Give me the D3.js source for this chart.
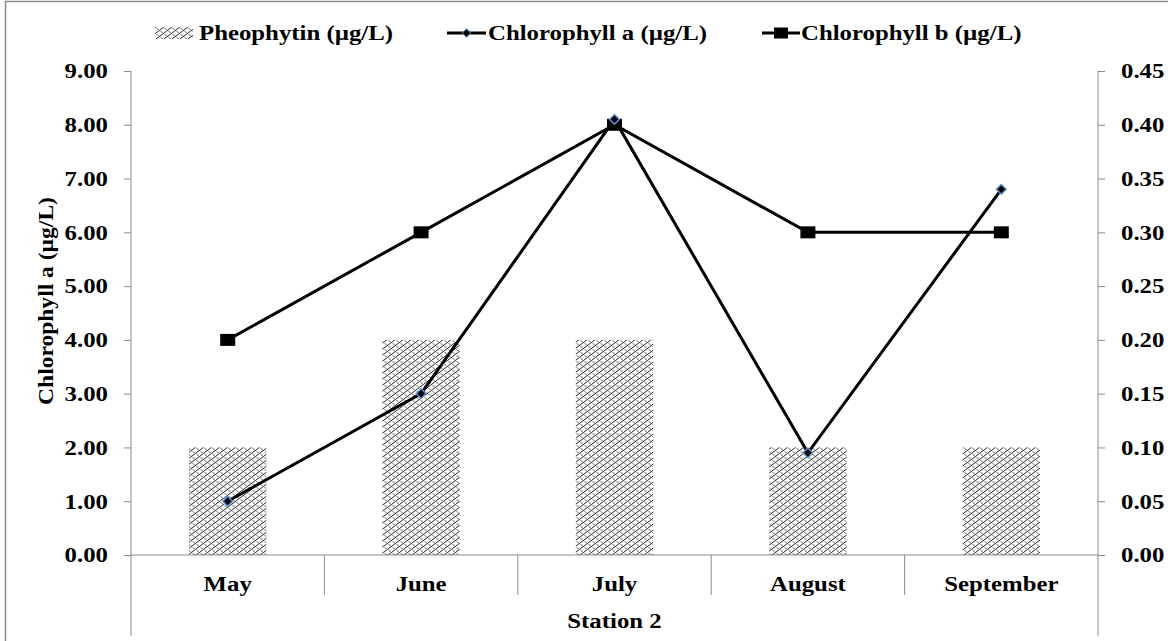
<!DOCTYPE html>
<html>
<head>
<meta charset="utf-8">
<script src="https://cdn.jsdelivr.net/npm/d3@7"></script>
<style>
  body { margin: 0; background: #fff; }
  text { font-family: "Liberation Serif", "Times New Roman", serif; font-weight: bold; fill: #000; }
</style>
</head>
<body>
<svg id="chart" width="1168" height="641"></svg>
<script>
// data
var months = ["May", "June", "July", "August", "September"];
var pheophytin = [0.10, 0.20, 0.20, 0.10, 0.10];   // right axis
var chlA = [1.00, 3.00, 8.10, 1.90, 6.80];           // left axis
var chlB = [0.20, 0.30, 0.40, 0.30, 0.30];           // right axis
var leftTicks = [0, 1, 2, 3, 4, 5, 6, 7, 8, 9];
var rightTicks = [0, 0.05, 0.10, 0.15, 0.20, 0.25, 0.30, 0.35, 0.40, 0.45];

var svg = d3.select("#chart"),
    width = +svg.attr("width"),
    height = +svg.attr("height");

var plotLeft = 131, plotRight = 1098, plotTop = 71, plotBottom = 555;
var sx = 1.24;   // the original text is drawn wide
var fs = "20px";

// put a text at (x,y), stretched sideways
function wide(sel, x, y) {
    return sel.attr("transform", "translate(" + x + "," + y + ") scale(" + sx + ",1)")
        .style("font-size", fs);
}

// outer frame
svg.append("rect")
    .attr("x", 5.5).attr("y", 1.5)
    .attr("width", 1175).attr("height", 660)
    .attr("fill", "none").attr("stroke", "#8c8c8c").attr("stroke-width", 1.5);

// hatch pattern (zigzag weave)
var defs = svg.append("defs");
var pat = defs.append("pattern")
    .attr("id", "hatch")
    .attr("patternUnits", "userSpaceOnUse")
    .attr("width", 8).attr("height", 6);
pat.append("rect").attr("width", 8).attr("height", 6).attr("fill", "#fff");
pat.append("path")
    .attr("d", "M0,6 L8,0 M-2,1.5 L2,-1.5 M6,7.5 L10,4.5")
    .attr("stroke", "#2a2a2a").attr("stroke-width", 1);
pat.append("path")
    .attr("d", "M0.5,1 L3,3.5 M4.5,4 L7,6.5")
    .attr("stroke", "#555").attr("stroke-width", 0.9);

var x = d3.scaleBand().domain(months).range([plotLeft, plotRight]);
var yL = d3.scaleLinear().domain([0, 9]).range([plotBottom, plotTop]);
var yR = d3.scaleLinear().domain([0, 0.45]).range([plotBottom, plotTop]);
function cx(i) { return x(months[i]) + x.bandwidth() / 2; }

// bars
svg.selectAll(".bar")
    .data(pheophytin)
    .enter().append("rect")
    .attr("class", "bar")
    .attr("x", function(d, i) { return x(months[i]) + x.bandwidth() * 0.3; })
    .attr("width", x.bandwidth() * 0.4)
    .attr("y", function(d) { return yR(d); })
    .attr("height", function(d) { return yR(0) - yR(d); })
    .attr("fill", "url(#hatch)");

// axes
var axisColor = "#8c8c8c";
var gL = svg.append("g")
    .attr("transform", "translate(" + plotLeft + ",0)")
    .call(d3.axisLeft(yL).tickValues(leftTicks).tickSize(7)
        .tickFormat(d3.format(".2f")));
var gR = svg.append("g")
    .attr("transform", "translate(" + plotRight + ",0)")
    .call(d3.axisRight(yR).tickValues(rightTicks).tickSize(7)
        .tickFormat(d3.format(".2f")));
[[gL, -23], [gR, 23]].forEach(function(p) {
    var g = p[0];
    g.select(".domain").remove();
    g.selectAll(".tick line").attr("stroke", axisColor);
    g.selectAll(".tick text")
        .attr("x", null).attr("dy", "0.34em")
        .attr("transform", "translate(" + p[1] + ",0) scale(" + sx + ",1)")
        .style("font-size", fs);
});

// axis lines, run down past the category rows
svg.append("line").attr("x1", plotLeft).attr("x2", plotLeft).attr("y1", plotTop).attr("y2", 636)
    .attr("stroke", axisColor);
svg.append("line").attr("x1", plotRight).attr("x2", plotRight).attr("y1", plotTop).attr("y2", 636)
    .attr("stroke", axisColor);
svg.append("line").attr("x1", plotLeft).attr("x2", plotRight).attr("y1", plotBottom).attr("y2", plotBottom)
    .attr("stroke", axisColor);

// category separators
svg.selectAll(".sep")
    .data(months.slice(1))
    .enter().append("line")
    .attr("x1", function(d) { return x(d); })
    .attr("x2", function(d) { return x(d); })
    .attr("y1", plotBottom).attr("y2", 595)
    .attr("stroke", axisColor);

svg.selectAll(".month")
    .data(months)
    .enter().append("text")
    .attr("text-anchor", "middle")
    .each(function(d, i) { wide(d3.select(this), cx(i), 591); })
    .text(function(d) { return d; });

wide(svg.append("text"), (plotLeft + plotRight) / 2, 628)
    .attr("text-anchor", "middle")
    .text("Station 2");

svg.append("text")
    .attr("transform", "translate(53,301) rotate(-90) scale(1.07,1)")
    .attr("text-anchor", "middle")
    .style("font-size", "22px")
    .text("Chlorophyll a (µg/L)");

// lines
var lineB = d3.line()
    .x(function(d, i) { return cx(i); })
    .y(function(d) { return yR(d); });
var lineA = d3.line()
    .x(function(d, i) { return cx(i); })
    .y(function(d) { return yL(d); });

svg.append("path").datum(chlB).attr("d", lineB)
    .attr("fill", "none").attr("stroke", "#000").attr("stroke-width", 3);
svg.append("path").datum(chlA).attr("d", lineA)
    .attr("fill", "none").attr("stroke", "#000").attr("stroke-width", 3);

// markers
svg.selectAll(".sqB")
    .data(chlB)
    .enter().append("rect")
    .attr("x", function(d, i) { return cx(i) - 7.5; })
    .attr("y", function(d) { return yR(d) - 6; })
    .attr("width", 15).attr("height", 12)
    .attr("fill", "#000");

var diamond = d3.symbol().type(d3.symbolDiamond2).size(60);
svg.selectAll(".dmA")
    .data(chlA)
    .enter().append("path")
    .attr("transform", function(d, i) {
        return "translate(" + cx(i) + "," + yL(d) + ")";
    })
    .attr("d", diamond)
    .attr("fill", "#000").attr("stroke", "#5b8fd0").attr("stroke-width", 1.5);

// legend
var lg = svg.append("g");
lg.append("rect").attr("x", 155).attr("y", 27).attr("width", 38).attr("height", 12)
    .attr("fill", "url(#hatch)");
wide(lg.append("text"), 199, 40).text("Pheophytin (µg/L)");

lg.append("line").attr("x1", 447).attr("x2", 486).attr("y1", 33).attr("y2", 33)
    .attr("stroke", "#000").attr("stroke-width", 3);
lg.append("path").attr("transform", "translate(466.5,33)")
    .attr("d", d3.symbol().type(d3.symbolDiamond2).size(45))
    .attr("fill", "#000").attr("stroke", "#5b8fd0").attr("stroke-width", 1);
wide(lg.append("text"), 488, 40).text("Chlorophyll a (µg/L)");

lg.append("line").attr("x1", 762).attr("x2", 800).attr("y1", 33).attr("y2", 33)
    .attr("stroke", "#000").attr("stroke-width", 3);
lg.append("rect").attr("x", 774).attr("y", 27.5).attr("width", 14).attr("height", 11)
    .attr("fill", "#000");
wide(lg.append("text"), 801, 40).text("Chlorophyll b (µg/L)");
</script>
</body>
</html>
